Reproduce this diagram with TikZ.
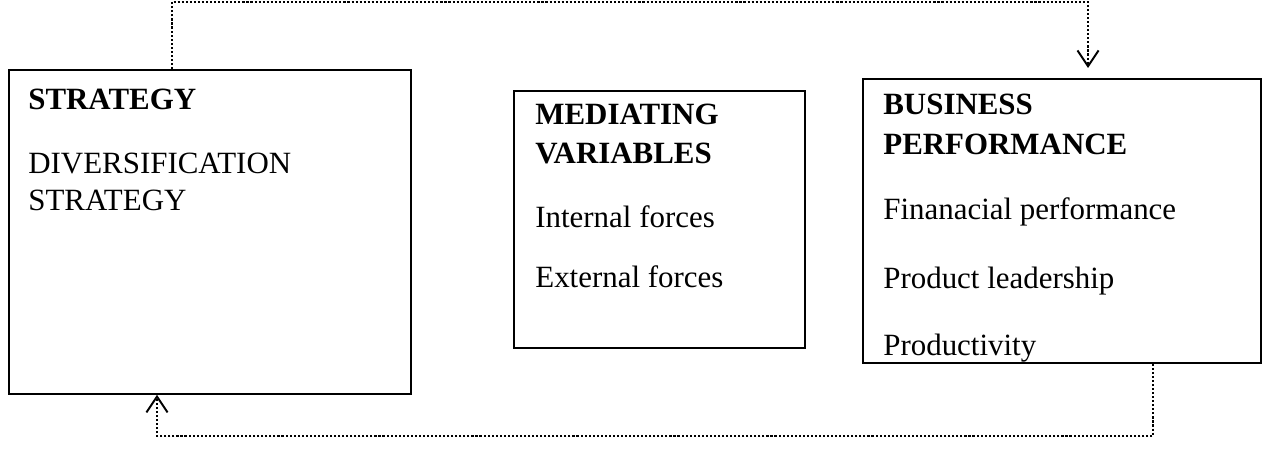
\documentclass[tikz,border=0pt]{standalone}
\usepackage{fontspec}
\setmainfont{Liberation Serif}
\usetikzlibrary{arrows.meta,positioning}
\tikzset{
  block/.style={draw=black,line width=1.1pt,rectangle,inner sep=0pt,anchor=north west},
  heading/.style={font=\fontsize{17.6}{21}\selectfont\bfseries,anchor=base west,inner sep=0pt},
  item/.style={font=\fontsize{17.6}{21}\selectfont,anchor=base west,inner sep=0pt},
  feedback/.style={-{Straight Barb[length=9pt,width=12pt,line width=1.1pt]},line width=1.4pt,dash pattern=on 1.2pt off 1.1pt}
}

\begin{document}
\begin{tikzpicture}[x=0.02cm,y=-0.02cm]
  \useasboundingbox (0,0) rectangle (1267,462);

  % boxes
  \node[block,minimum width=8.04cm,minimum height=6.48cm] (strat) at (8,69) {};
  \node[block,minimum width=5.82cm,minimum height=5.14cm] (med) at (513,90) {};
  \node[block,minimum width=7.96cm,minimum height=5.68cm] (perf) at (862,78) {};

  % strategy
  \node[heading] (stratHead) at (28,110) {STRATEGY};
  \node[item] (stratA) at (28,174) {DIVERSIFICATION};
  \node[item] (stratB) at (28,211) {STRATEGY};

  % mediating variables
  \node[heading] (medHeadA) at (535,125) {MEDIATING};
  \node[heading] (medHeadB) at (535,164) {VARIABLES};
  \node[item] (medA) at (535,228) {Internal forces};
  \node[item] (medB) at (535,288) {External forces};

  % business performance
  \node[heading] (perfHeadA) at (883,115) {BUSINESS};
  \node[heading] (perfHeadB) at (883,155) {PERFORMANCE};
  \foreach \n/\y/\txt in {A/220/Finanacial performance,B/289/Product leadership,C/356/Productivity}{
    \node[item] (perf\n) at (883,\y) {\txt};
  }

  % feedback loops
  \coordinate (topL) at (172,2);
  \coordinate (topR) at (1088,2);
  \coordinate (botR) at (1153,436);
  \coordinate (botL) at (157,436);
  \draw[feedback,shorten >=0.2cm] (strat.north -| topL) |- (topR) -- (perf.north -| topR);
  \draw[feedback] (perf.south -| botR) |- (botL) -- (strat.south -| botL);
\end{tikzpicture}
\end{document}
